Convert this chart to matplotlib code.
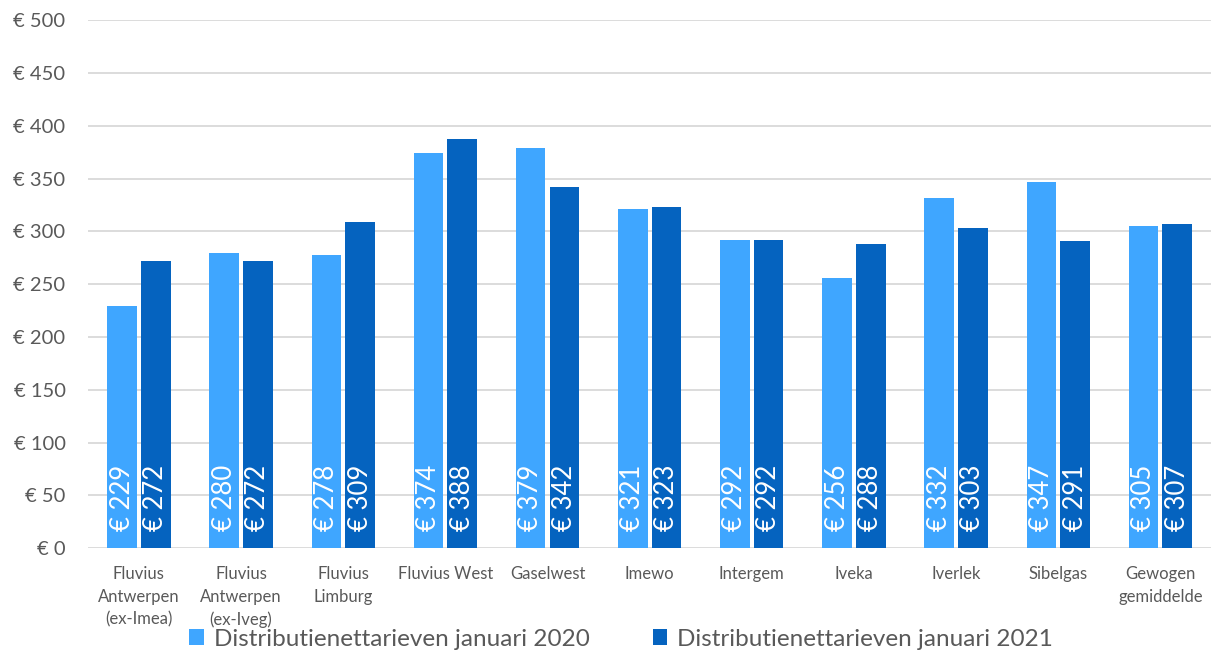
import matplotlib.pyplot as plt
import numpy as np

plt.rcParams['font.family'] = ['Lato', 'DejaVu Sans']

categories = ["Fluvius\nAntwerpen\n(ex-Imea)", "Fluvius\nAntwerpen\n(ex-Iveg)",
              "Fluvius\nLimburg", "Fluvius West", "Gaselwest", "Imewo",
              "Intergem", "Iveka", "Iverlek", "Sibelgas", "Gewogen\ngemiddelde"]
jan_2020 = [229, 280, 278, 374, 379, 321, 292, 256, 332, 347, 305]
jan_2021 = [272, 272, 309, 388, 342, 323, 292, 288, 303, 291, 307]
series_names = ["Distributienettarieven januari 2020",
                "Distributienettarieven januari 2021"]
yticks = list(range(0, 501, 50))

light = "#3FA6FF"
dark = "#0563BF"
grey = "#595959"

fig = plt.figure(figsize=(12.2, 6.55), dpi=100)
ax = fig.add_axes([0.072, 0.163, 0.921, 0.806])

x = np.arange(len(categories))
w = 0.29
off = 0.165
b1 = ax.bar(x - off, jan_2020, width=w, color=light, label=series_names[0], zorder=3)
b2 = ax.bar(x + off, jan_2021, width=w, color=dark, label=series_names[1], zorder=3)

for bars, vals in [(b1, jan_2020), (b2, jan_2021)]:
    for rect, v in zip(bars, vals):
        ax.text(rect.get_x() + rect.get_width() / 2, 16, f"€ {v}",
                rotation=90, ha="center", va="bottom", color="white",
                fontsize=18.5, zorder=4)

ax.set_ylim(0, 500)
ax.set_xlim(-0.5, len(categories) - 0.5)
ax.set_yticks(yticks)
ax.set_yticklabels([f"€ {t}" for t in yticks], fontsize=14.5, color=grey)
ax.set_xticks(x)
ax.set_xticklabels(categories, fontsize=12, color=grey, linespacing=1.5)
ax.tick_params(axis="both", length=0)
ax.tick_params(axis="y", pad=16)
ax.tick_params(axis="x", pad=13)
for s in ax.spines.values():
    s.set_visible(False)
ax.yaxis.grid(True, color="#d9d9d9", linewidth=1.3, zorder=0)

fig.legend(handles=[b1, b2], labels=series_names, loc="center",
           bbox_to_anchor=(0.509, 0.024), ncol=2, frameon=False, fontsize=17.5,
           labelcolor=grey, handlelength=0.6, handleheight=0.6,
           handletextpad=0.4, columnspacing=2.6, borderpad=0)

fig.savefig("out.png", dpi=100)
